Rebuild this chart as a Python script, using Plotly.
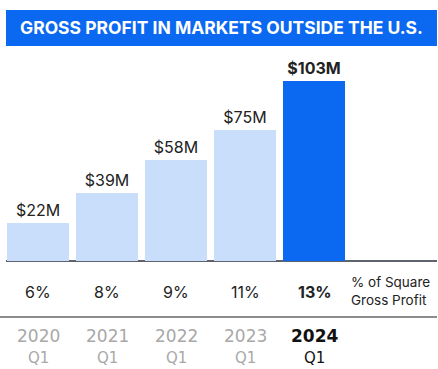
import plotly.graph_objects as go

periods = ["2020", "2021", "2022", "2023", "2024"]
quarters = ["Q1", "Q1", "Q1", "Q1", "Q1"]
gross_profit_m = [22, 39, 58, 75, 103]
bar_labels = ["$22M", "$39M", "$58M", "$75M", "$103M"]
pct_of_square = ["6%", "8%", "9%", "11%", "13%"]
pct_header = "% of Square<br>Gross Profit"
title_text = "GROSS PROFIT IN MARKETS OUTSIDE THE U.S."

W, H = 438, 369
LIGHT = "#c8defa"
BLUE = "#0b68f1"
xi = list(range(len(periods)))
highlight = len(periods) - 1

colors = [BLUE if i == highlight else LIGHT for i in xi]

fig = go.Figure()
fig.add_trace(go.Bar(
    x=xi, y=gross_profit_m, width=0.9,
    marker=dict(color=colors, line=dict(width=0)),
    text=[f"<b>{t}</b>" if i == highlight else t for i, t in enumerate(bar_labels)],
    textposition="outside", cliponaxis=False,
    textfont=dict(family="Inter", size=16, color="#222"),
    hoverinfo="skip",
))

def py(p):
    return 1 - p / H

def px(p):
    return p / W

ann = []
for i in xi:
    bold = i == highlight
    ann.append(dict(x=i, xref="x", y=py(292), yref="paper", yanchor="middle", xanchor="center",
                    text=f"<b>{pct_of_square[i]}</b>" if bold else pct_of_square[i],
                    showarrow=False, font=dict(family="Inter", size=16, color="#222")))
    col = "#111" if bold else "#a8a8a8"
    ann.append(dict(x=i, xref="x", y=py(336), yref="paper", yanchor="middle", xanchor="center",
                    text=f"<b>{periods[i]}</b>" if bold else periods[i],
                    showarrow=False, font=dict(family="DejaVu Sans", size=17, color=col)))
    ann.append(dict(x=i, xref="x", y=py(357.5), yref="paper", yanchor="middle", xanchor="center",
                    text=quarters[i],
                    showarrow=False, font=dict(family="DejaVu Sans", size=15, color=col)))
ann.append(dict(x=px(349), xref="paper", y=py(291), yref="paper", yanchor="middle", xanchor="left",
                text=pct_header, align="left", showarrow=False,
                font=dict(family="Inter", size=13.5, color="#222")))
ann.append(dict(x=px(221.5), xref="paper", y=py(28), yref="paper", yanchor="middle", xanchor="center",
                text=f"<b>{title_text}</b>", showarrow=False,
                font=dict(family="Inter", size=17.5, color="white")))

shapes = [
    dict(type="rect", xref="paper", yref="paper", x0=px(6), x1=px(437), y0=py(46), y1=py(10),
         fillcolor=BLUE, line=dict(width=0), layer="below"),
    dict(type="line", xref="paper", yref="paper", x0=px(6), x1=px(437), y0=py(261), y1=py(261),
         line=dict(color="#2a2f3a", width=1.5), layer="below"),
    dict(type="line", xref="paper", yref="paper", x0=px(0), x1=px(437), y0=py(317), y1=py(317),
         line=dict(color="#666", width=1.5)),
]

step = 69.0
c0 = 38.0
ppm = 1.75
fig.update_layout(
    width=W, height=H,
    margin=dict(l=0, r=0, t=0, b=0),
    paper_bgcolor="white", plot_bgcolor="white",
    showlegend=False,
    xaxis=dict(range=[(0 - c0) / step, (W - c0) / step], visible=False, fixedrange=True),
    yaxis=dict(range=[(261 - H) / ppm, 261 / ppm], visible=False, fixedrange=True),
    annotations=ann, shapes=shapes,
    bargap=0,
)
fig.write_html("out.html", config={"displayModeBar": False},
               post_script="document.body.style.margin='0';document.body.style.overflow='hidden';")
